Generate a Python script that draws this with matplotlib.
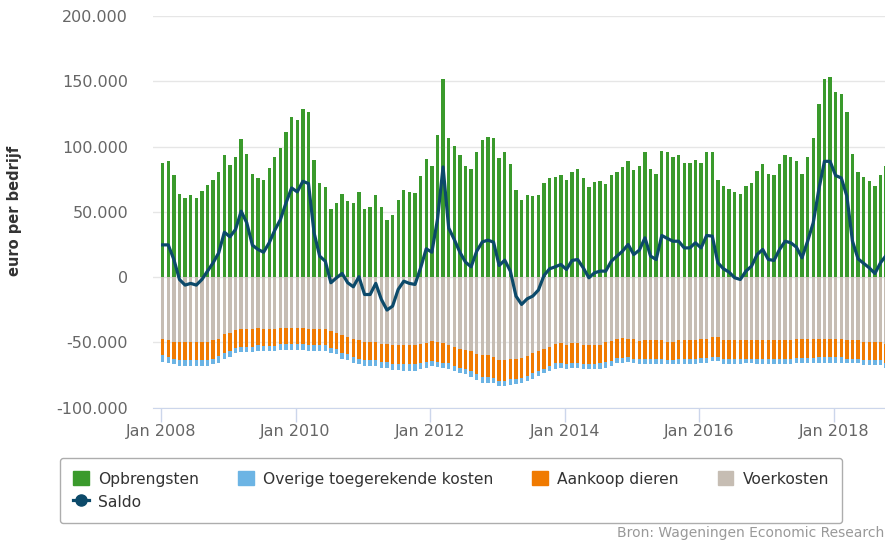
import numpy as np
import matplotlib
matplotlib.use("Agg")
import matplotlib.pyplot as plt
from matplotlib.patches import Patch
from matplotlib.lines import Line2D

# maandelijkse waarden, jan 2008 t/m okt 2018 (euro per bedrijf)
opbrengsten = [
    87500, 88700, 78000, 64000, 60700, 62700, 60700, 66300, 70900, 74700,
    80300, 93300, 86200, 92000, 106000, 94300, 79300, 75700, 74700, 83900,
    92000, 99200, 111200, 122700, 120600, 128500, 126500, 90000, 72200, 68900,
    52300, 56900, 64000, 58100, 56900, 65300, 52300, 53600, 62700, 53600,
    44100, 47700, 59400,
    66600, 65300, 64500, 77300, 90500, 85400, 108600, 152000, 106300, 100700,
    93600, 85400, 83100, 95900, 105300, 107400, 106300, 91000, 95900, 86400,
    66600, 59400, 63000, 62000, 63000, 72200, 76000, 77000, 78300, 74700,
    80600, 82900, 76000, 69100, 72900, 73400, 71400, 78300, 80300, 84200,
    88700, 81900, 85400,
    95900, 82900, 79300, 96900, 95600, 92100, 93300, 87500, 87500, 90000,
    87500, 95900, 95900, 74700, 70100, 67600, 65300, 64000, 70100, 72200,
    81600, 86400, 79300, 78300, 86400, 93300, 92000, 88700, 79300, 92000,
    106300, 132300, 152000, 153300, 141800, 140200, 126500, 94300, 80300, 77000,
    73400, 70100, 78300, 85400,
]

saldo = [
    24700, 24700, 13500, -1800, -6100, -4800, -6100, -1800, 4600, 11000,
    18600, 34400, 30900, 36500, 50500, 41600, 24500, 21200, 19100, 26300,
    36000, 44100, 56900, 68300, 65300, 73400, 71700, 33900, 16100, 12200,
    -4300, -500, 2800, -4300, -7400, 300, -13300, -13300, -4800, -17100,
    -25200, -22200, -9400,
    -3100, -4800, -5600, 7100, 21700, 19100, 44100, 84400, 37700, 28800,
    19100, 11500, 7900, 19900, 27000, 28300, 26800, 8900, 13000, 4600,
    -14500, -20900, -16600, -14500, -9900, 1300, 6400, 7900, 9700, 5900,
    12800, 13500, 7100, -500, 3300, 4600, 4600, 12200, 16100, 19900,
    25000, 17300, 20700,
    30100, 16100, 13500, 31900, 29600, 27500, 27500, 22400, 22400, 26300,
    22400, 31900, 31400, 11000, 6400, 3800, -500, -1800, 4600, 8400,
    17300, 21200, 13500, 12800, 21200, 27500, 26300, 23000, 14800, 27500,
    41600, 67100, 88700, 88700, 77800, 76000, 62000, 27500, 14000, 10500,
    7100, 2800, 11000, 16600,
]

voerkosten = [
    47700, 48500, 49700, 49700, 49700, 49700, 49700, 49700, 49700, 48500,
    47200, 43900, 42600, 40500, 40000, 40000, 40000, 39000, 40000, 40000,
    40000, 39000, 39000, 39000, 39000, 39000, 40000, 40000, 40000, 40000,
    41300, 42600, 44600, 45600, 47200, 48500, 49700, 49700, 49700, 51000,
    51000, 52300, 52300,
    52300, 52300, 52300, 51000, 50700, 49000, 49700, 50200, 52300, 53300,
    54800, 55800, 56900, 59200, 59900, 59900, 61200, 63500, 63500, 62500,
    62500, 61700, 60400, 57900, 56900, 54800, 53300, 51500, 50700, 52300,
    50700, 50700, 52300, 52300, 52300, 51800, 49700, 49000, 47700, 46400,
    47200, 47700, 49000,
    48500, 48500, 48500, 48500, 49700, 49700, 48500, 48500, 48500, 48500,
    47700, 47700, 46200, 46200, 48500, 48500, 48500, 48500, 48500, 48500,
    48500, 48500, 48500, 48500, 48500, 48500, 48500, 47700, 47700, 47700,
    47700, 47200, 47200, 47200, 47200, 47200, 48500, 48500, 48500, 49700,
    49700, 49700, 49700, 51000,
]

aankoop = [
    12200, 12700, 12700, 13800, 13800, 13800, 13800, 13800, 13800, 14000,
    13300, 14000, 14000, 13800, 13300, 13300, 13300, 13300, 12700, 12700,
    12700, 12500, 12500, 12500, 12500, 12500, 12200, 12200, 12200, 12200,
    12700, 12700, 13300, 13500, 14000, 14000, 14000, 14000, 14000, 14000,
    14000, 14500, 14500,
    14500, 14500, 14500, 15000, 14500, 15300, 15300, 15300, 13800, 14800,
    14500, 14800, 15000, 15300, 16300, 16600, 15800, 16100, 16100, 15800,
    15300, 15300, 15300, 15300, 15000, 15300, 14800, 14500, 15300, 14500,
    15300, 15300, 14500, 14500, 14500, 14300, 15300, 15300, 14000, 15300,
    14000, 14800, 13800,
    14000, 14000, 14000, 14000, 13800, 13800, 14000, 14000, 14000, 14000,
    14000, 14000, 14800, 14800, 14000, 14000, 14000, 14000, 14000, 14000,
    14000, 14000, 14000, 14000, 14000, 14000, 14000, 14000, 14000, 14000,
    14000, 14000, 14000, 14000, 14000, 14000, 14000, 14000, 14000, 14000,
    14000, 14000, 14000, 14500,
]

overige = [
    5100, 4800, 4300, 4600, 4600, 4600, 4600, 4600, 4600, 4300,
    5600, 4600, 4300, 3600, 4100, 4100, 4100, 4300, 3800, 3800,
    3800, 4300, 4300, 4300, 4300, 4300, 4300, 4300, 4300, 4300,
    3800, 3800, 4600, 4600, 4800, 4300, 4300, 4300, 4300, 4300,
    4300, 4600, 4600,
    5100, 5100, 5100, 4600, 4600, 3800, 3600, 3800, 4100, 3800,
    3800, 3800, 4300, 4300, 4600, 4300, 3800, 3800, 3800, 4300,
    4300, 3800, 3800, 4600, 3800, 3600, 3800, 4100, 3600, 3300,
    3300, 3300, 3800, 3800, 3800, 4600, 4300, 3800, 4300, 3800,
    3800, 3600, 3800,
    4300, 4300, 4300, 4300, 3300, 3300, 4300, 4300, 4300, 4300,
    4300, 4300, 3300, 3300, 4300, 4300, 4300, 4300, 3600, 3600,
    4300, 4300, 4300, 4300, 4300, 4300, 4300, 3800, 3800, 3800,
    3800, 4300, 4300, 4300, 4300, 4300, 3600, 3600, 3600, 3800,
    3800, 3800, 3800, 3800,
]

tick_labels = ["Jan 2008", "Jan 2010", "Jan 2012", "Jan 2014", "Jan 2016", "Jan 2018"]
y_ticks = [-100000, -50000, 0, 50000, 100000, 150000, 200000]

c_opbr = "#3a9a2c"
c_over = "#6cb4e4"
c_aank = "#f07a00"
c_voer = "#c6bdb3"
c_saldo = "#0c4a6a"

n = len(opbrengsten)
x = np.arange(n) + 0.3
voer = -np.array(voerkosten)
aank = -np.array(aankoop)
over = -np.array(overige)

fig = plt.figure(figsize=(8.85, 5.42), dpi=100)
ax = fig.add_axes([153 / 885, 1 - 407.7 / 542, 732 / 885, 391.7 / 542])

w = 0.6
ax.bar(x, opbrengsten, width=w, color=c_opbr, zorder=2)
ax.bar(x, voer, width=w, color=c_voer, zorder=2)
ax.bar(x, aank, width=w, bottom=voer, color=c_aank, zorder=2)
ax.bar(x, over, width=w, bottom=voer + aank, color=c_over, zorder=2)
ax.plot(x, saldo, color=c_saldo, lw=2.3, zorder=3, solid_joinstyle="round")

ax.set_xlim(-1.42, 129.1)
ax.set_ylim(-100000, 200000)
ax.set_yticks(y_ticks)
ax.set_yticklabels([f"{v:,}".replace(",", ".") for v in y_ticks])
ax.set_xticks(np.arange(0, n, 24))
ax.set_xticklabels(tick_labels)

ax.grid(axis="y", color="#e6e6e6", lw=1.0, zorder=0)
ax.set_axisbelow(True)
for s in ["top", "right", "left"]:
    ax.spines[s].set_visible(False)
ax.spines["bottom"].set_color("#ccd6eb")
ax.spines["bottom"].set_zorder(1)
ax.tick_params(axis="y", length=0, pad=18, labelsize=11.5, labelcolor="#666666")
ax.tick_params(axis="x", length=10, width=1, color="#ccd6eb", pad=2,
               labelsize=11.5, labelcolor="#666666")

fig.text(15 / 885, 1 - 211 / 542, "euro per bedrijf", rotation=90, ha="center",
         va="center", fontsize=10.5, fontweight="bold", color="#333333")

handles = [
    Patch(color=c_opbr, label="Opbrengsten"),
    Line2D([], [], color=c_saldo, lw=2.3, marker="o", markersize=8, label="Saldo"),
    Patch(color=c_over, label="Overige toegerekende kosten"),
    Patch(color=c_aank, label="Aankoop dieren"),
    Patch(color=c_voer, label="Voerkosten"),
]
leg = fig.legend(handles=handles, ncol=4, loc="upper left",
                 bbox_to_anchor=(60 / 885, 1 - 458 / 542), borderaxespad=0,
                 fontsize=11.2, frameon=True, fancybox=True,
                 edgecolor="#999999", handlelength=1.0, handleheight=1.0,
                 handletextpad=0.6, columnspacing=2.5, labelspacing=0.5,
                 borderpad=0.85, labelcolor="#333333")
leg.get_frame().set_linewidth(1.0)

fig.text(0.999, 9 / 542, "Bron: Wageningen Economic Research", ha="right",
         va="center", fontsize=10, color="#999999")

fig.savefig("out.png", dpi=100)
